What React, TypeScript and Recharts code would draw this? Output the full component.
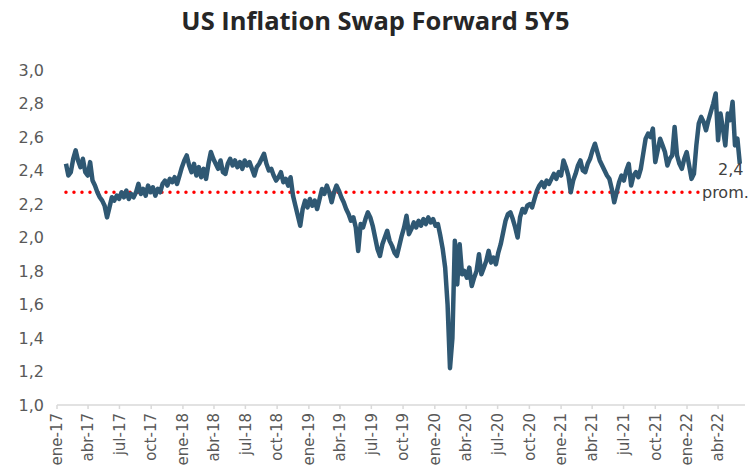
import React from "react";
import { LineChart, Line, XAxis, YAxis, ReferenceLine } from "recharts";

const title = "US Inflation Swap Forward 5Y5";

// weekly observations, first one on 27-ene-2017
const firstWeek = Date.UTC(2017, 0, 27);
const weekMs = 7 * 24 * 3600 * 1000;

const swap5y5 = [
    2.44, 2.37, 2.39, 2.47, 2.52, 2.46, 2.42, 2.47, 2.39, 2.37,
    2.45, 2.34, 2.31, 2.27, 2.24, 2.22, 2.19, 2.12, 2.18, 2.24,
    2.22, 2.25, 2.23, 2.27, 2.24, 2.28, 2.23, 2.26, 2.24, 2.27,
    2.32, 2.26, 2.29, 2.25, 2.31, 2.27, 2.30, 2.25, 2.29, 2.27,
    2.32, 2.34, 2.31, 2.35, 2.33, 2.36, 2.32, 2.37, 2.42, 2.46,
    2.49, 2.43, 2.39, 2.44, 2.37, 2.42, 2.36, 2.41, 2.35, 2.44,
    2.51, 2.47, 2.44, 2.41, 2.46, 2.39, 2.38, 2.44, 2.47, 2.43,
    2.46, 2.42, 2.45, 2.41, 2.46, 2.43, 2.45, 2.41, 2.37, 2.42,
    2.44, 2.47, 2.50, 2.44, 2.40, 2.41, 2.37, 2.34, 2.36, 2.39,
    2.33, 2.35, 2.31, 2.36, 2.25, 2.19, 2.13, 2.07, 2.17, 2.22,
    2.18, 2.23, 2.19, 2.22, 2.17, 2.23, 2.29, 2.26, 2.31, 2.27,
    2.21, 2.27, 2.31, 2.28, 2.24, 2.21, 2.17, 2.14, 2.10, 2.12,
    2.06, 1.92, 2.08, 2.06, 2.11, 2.15, 2.12, 2.07, 2.00, 1.93,
    1.89, 1.96, 2.00, 2.04, 1.98, 1.95, 1.91, 1.89, 1.95, 2.01,
    2.06, 2.13, 2.02, 2.05, 2.09, 2.06, 2.10, 2.07, 2.11, 2.08,
    2.12, 2.09, 2.11, 2.07, 2.08, 2.01, 1.93, 1.82, 1.60, 1.22,
    1.40, 1.98, 1.72, 1.96, 1.78, 1.80, 1.76, 1.82, 1.71, 1.76,
    1.80, 1.90, 1.78, 1.82, 1.86, 1.92, 1.85, 1.88, 1.84, 1.91,
    1.96, 2.03, 2.10, 2.14, 2.15, 2.11, 2.06, 2.00, 2.12, 2.17,
    2.15, 2.19, 2.20, 2.18, 2.23, 2.28, 2.31, 2.33, 2.30, 2.34,
    2.32, 2.35, 2.38, 2.35, 2.39, 2.37, 2.46, 2.42, 2.37, 2.27,
    2.34, 2.38, 2.43, 2.46, 2.40, 2.39, 2.44, 2.47, 2.52, 2.56,
    2.51, 2.46, 2.43, 2.40, 2.37, 2.35, 2.29, 2.21, 2.27, 2.33,
    2.37, 2.34, 2.40, 2.44, 2.31, 2.37, 2.39, 2.36, 2.41, 2.50,
    2.59, 2.62, 2.60, 2.65, 2.45, 2.52, 2.59, 2.55, 2.51, 2.43,
    2.47, 2.49, 2.66, 2.49, 2.44, 2.41, 2.47, 2.51, 2.43, 2.35,
    2.38, 2.55, 2.68, 2.72, 2.69, 2.64, 2.70, 2.75, 2.80, 2.86,
    2.58, 2.74, 2.65, 2.55, 2.74, 2.70, 2.81, 2.55, 2.59, 2.44,
];

const average = 2.27;
const averageLabel = "prom.";

const tickLabels = [
    "ene-17", "abr-17", "jul-17", "oct-17",
    "ene-18", "abr-18", "jul-18", "oct-18",
    "ene-19", "abr-19", "jul-19", "oct-19",
    "ene-20", "abr-20", "jul-20", "oct-20",
    "ene-21", "abr-21", "jul-21", "oct-21",
    "ene-22", "abr-22",
];
const yTicks = [1.0, 1.2, 1.4, 1.6, 1.8, 2.0, 2.2, 2.4, 2.6, 2.8, 3.0];

const tickDates = tickLabels.map((_, i) => Date.UTC(2017 + Math.floor(i / 4), (i % 4) * 3, 1));
const labelByDate: Record<number, string> = {};
tickDates.forEach((d, i) => { labelByDate[d] = tickLabels[i]; });

const data = swap5y5.map((value, i) => ({ date: firstWeek + i * weekMs, value }));
const lastIndex = data.length - 1;

const FONT = "'DejaVu Sans', Verdana, sans-serif";
const GREY = "#595959";

const fmt = (v: number) => v.toFixed(1).replace(".", ",");

function DateTick({ x, y, payload }: any) {
    return (
        <text
            x={x}
            y={y}
            transform={`rotate(-90, ${x}, ${y})`}
            textAnchor="end"
            dy="0.35em"
            fontSize={15}
            fontFamily={FONT}
            fill={GREY}
        >
            {labelByDate[payload.value]}
        </text>
    );
}

function LastLabel({ x, y, index, value }: any) {
    if (index !== lastIndex) return null;
    return (
        <text x={x - 9} y={y + 11} textAnchor="middle" fontSize={16} fontFamily={FONT} fill="#404040">
            {fmt(value)}
        </text>
    );
}

function AverageLabel({ viewBox }: any) {
    const endX = viewBox.x + viewBox.width;
    return (
        <g>
            <rect x={endX - 40} y={viewBox.y - 9} width={60} height={18} fill="#ffffff" />
            <text x={endX + 9} y={viewBox.y + 6} textAnchor="end" fontSize={16} fontFamily={FONT} fill="#404040">
                {averageLabel}
            </text>
        </g>
    );
}

export default function App() {
    return (
        <div style={{ position: "absolute", left: 0, top: 0, width: 751, height: 470, background: "#fff" }}>
            <div
                style={{
                    position: "absolute",
                    left: 0,
                    top: 3,
                    width: 751,
                    textAlign: "center",
                    fontFamily: "'Open Sans', sans-serif",
                    fontWeight: 700,
                    fontSize: 25.5,
                    color: "#262626",
                }}
            >
                {title}
            </div>
            <LineChart width={751} height={470} data={data} margin={{ top: 70, right: 6, bottom: 0, left: 0 }}>
                <XAxis
                    dataKey="date"
                    type="number"
                    domain={[Date.UTC(2017, 0, 1), Date.UTC(2022, 5, 18)]}
                    ticks={tickDates}
                    interval={0}
                    tick={<DateTick />}
                    height={65}
                    stroke="#D9D9D9"
                    strokeWidth={1.5}
                    tickSize={4}
                    tickMargin={4}
                />
                <YAxis
                    domain={[1, 3]}
                    ticks={yTicks}
                    width={57}
                    axisLine={false}
                    tickLine={false}
                    tickSize={0}
                    tickMargin={13}
                    tickFormatter={fmt}
                    tick={{ fontSize: 16, fontFamily: FONT, fill: GREY }}
                />
                <ReferenceLine
                    segment={[
                        { x: data[0].date, y: average },
                        { x: data[lastIndex].date, y: average },
                    ]}
                    stroke="#FF0000"
                    strokeWidth={3.5}
                    strokeDasharray="0 8"
                    strokeLinecap="round"
                    label={<AverageLabel />}
                />
                <Line
                    type="linear"
                    dataKey="value"
                    stroke="#2F5873"
                    strokeWidth={4.5}
                    strokeLinejoin="round"
                    dot={false}
                    isAnimationActive={false}
                    label={<LastLabel />}
                />
            </LineChart>
        </div>
    );
}
